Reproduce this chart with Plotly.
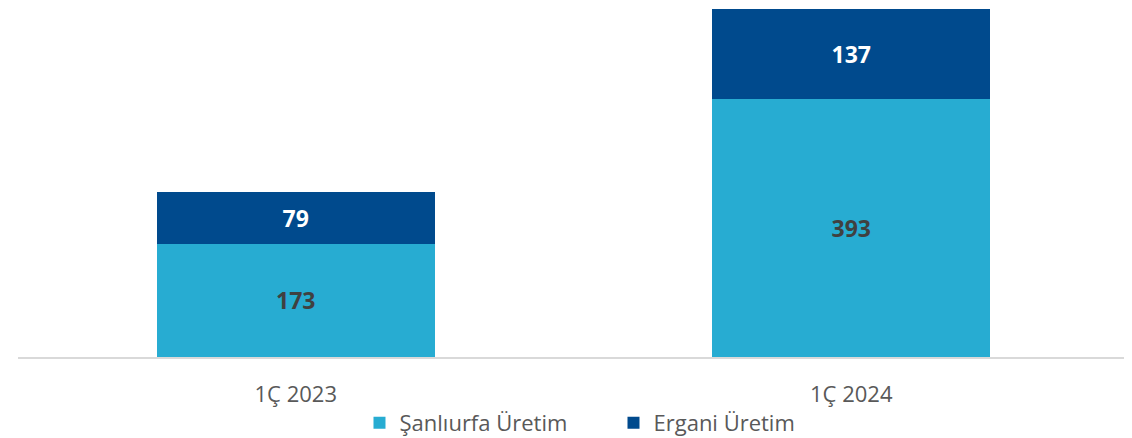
import plotly.graph_objects as go

categories = ["1Ç 2023", "1Ç 2024"]
sanliurfa = [173, 393]
ergani = [79, 137]

fig = go.Figure()
fig.add_trace(go.Bar(
    x=categories, y=sanliurfa, name="Şanlıurfa Üretim",
    marker=dict(color="#27acd2", line=dict(width=0)),
    text=sanliurfa, textposition="inside", insidetextanchor="middle",
    textfont=dict(color="#404040", size=23, family="Open Sans", weight="bold"),
    width=0.5,
))
fig.add_trace(go.Bar(
    x=categories, y=ergani, name="Ergani Üretim",
    marker=dict(color="#004a8d", line=dict(width=0)),
    text=ergani, textposition="inside", insidetextanchor="middle",
    textfont=dict(color="white", size=23, family="Open Sans", weight="bold"),
    width=0.5,
))

# the page adds an 8px body margin; the figure is made a bit taller than the
# window so the legend can sit low without pushing the plot area up
fig.update_layout(
    barmode="stack",
    width=1124, height=446,
    margin=dict(l=10, r=3, t=0, b=97),
    plot_bgcolor="white", paper_bgcolor="white",
    font=dict(family="Open Sans", color="#595959"),
    showlegend=True,
    legend=dict(orientation="h", traceorder="normal", x=0.536, xanchor="center",
                y=-0.189, yanchor="middle", entrywidth=209,
                bgcolor="rgba(0,0,0,0)",
                font=dict(size=22, color="#595959")),
    uniformtext=dict(mode="show", minsize=10),
)
fig.update_xaxes(showline=True, linecolor="#d9d9d9", linewidth=1.5,
                 tickfont=dict(size=22, color="#595959"), ticks="",
                 ticklabelstandoff=17)
fig.update_yaxes(range=[0, 532], visible=False, showgrid=False)

fig.write_html("out.html")
